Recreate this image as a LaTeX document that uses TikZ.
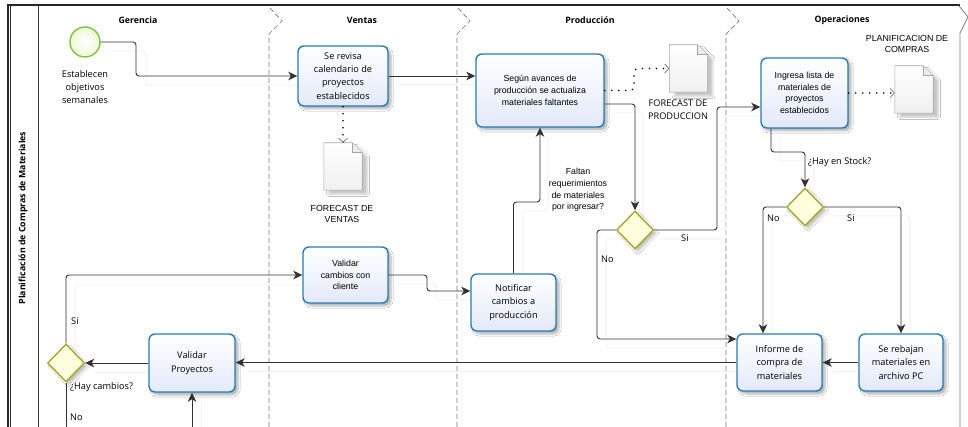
\documentclass[tikz,border=0pt]{standalone}
\usepackage{fontspec}
\setmainfont{Open Sans}
\newfontfamily\arialf{Liberation Sans}
\usetikzlibrary{arrows.meta,shapes.geometric,shadows.blur,calc}

\definecolor{taskborder}{RGB}{42,124,181}
\definecolor{taskfill}{RGB}{226,233,250}
\definecolor{gateborder}{RGB}{168,168,48}
\definecolor{gatefill}{RGB}{255,255,222}
\definecolor{startborder}{RGB}{124,196,64}
\definecolor{startfill}{RGB}{240,248,215}
\definecolor{flowc}{RGB}{50,50,50}
\definecolor{lanec}{RGB}{120,120,120}

\newcommand{\segtxt}{\fontsize{9.2pt}{13.3pt}\selectfont}
\newcommand{\hdrtxt}{\fontsize{8.8pt}{11pt}\selectfont\bfseries}
\newcommand{\aritxt}{\arialf\fontsize{8.8pt}{11.7pt}\selectfont}

\begin{document}
\begin{tikzpicture}[x=1pt,y=-1pt,
  task/.style={draw=taskborder, line width=1.4pt, rounded corners=6pt,
    top color=white, bottom color=taskfill, align=center, inner sep=2pt,
    blur shadow={shadow xshift=3pt, shadow yshift=-3pt, shadow opacity=30, shadow blur steps=6}},
  gate/.style={diamond, draw=gateborder, line width=1.4pt, fill=gatefill,
    minimum width=37pt, minimum height=38pt, inner sep=0pt,
    blur shadow={shadow xshift=3pt, shadow yshift=-3pt, shadow opacity=25, shadow blur steps=5}},
  startev/.style={circle, draw=startborder, line width=1.4pt, inner color=white, outer color=startfill,
    minimum size=30pt, inner sep=0pt},
  docbox/.style={minimum width=38pt, minimum height=47pt, inner sep=0pt},
  docshape/.style={draw=gray!70, line width=0.6pt, top color=white, bottom color=gray!12,
    blur shadow={shadow xshift=5pt, shadow yshift=-4pt, shadow opacity=22, shadow blur steps=5}},
  flow/.style={draw=flowc, line width=0.9pt, rounded corners=3pt,
    -{Stealth[length=9pt,width=8.5pt,inset=2.5pt]}},
  flowline/.style={draw=flowc, line width=0.9pt, rounded corners=3pt},
  ghost/.style={draw=black!5, line width=1pt, rounded corners=3pt},
  assoc/.style={draw=black, line width=1.8pt, line cap=round, dash pattern=on 0pt off 7pt,
    rounded corners=4pt, -{Straight Barb[length=4pt,width=9pt,line width=0.8pt,color=gray]}},
  lane/.style={draw=lanec, line width=0.7pt, dash pattern=on 5pt off 3pt},
  lbl/.style={inner sep=0pt, font=\segtxt},
  hdr/.style={inner sep=0pt, font=\hdrtxt}
]
\useasboundingbox (0,0) rectangle (968,427);
\fill[white] (0,0) rectangle (968,427);

% ---- pool frame and lanes ----
\draw[line width=2pt, black!85] (7,5) -- (960,5);
\draw[line width=1.2pt, black!85] (8,5) -- (8,427);
\draw[line width=0.8pt, black!85] (10.6,5) -- (10.6,427);
\draw[line width=0.8pt, black!80] (38.5,6) -- (38.5,427);
\draw[line width=0.8pt, gray] (959,6) -- (968,17) -- (960,33) -- (960,427);
\foreach \lx in {269,457,726}
  \draw[lane] (\lx+1,8) -- (\lx+13,21) -- (\lx,34) -- (\lx,427);

\node[rotate=90, font=\hdrtxt] (pool) at (23,218) {Planificación de Compras de Materiales};
\node[hdr] (hGer) at (138,20) {Gerencia};
\node[hdr] (hVen) at (362,20) {Ventas};
\node[hdr] (hPro) at (590,20) {Producción};
\node[hdr] (hOpe) at (842,20) {Operaciones};

% ---- faint connector shadows ----
\draw[ghost] (109,51) -- (146,51) -- (146,85) -- (300,85);
\draw[ghost] (397,85) -- (478,85);
\draw[ghost] (613,113) -- (643,113) -- (643,219);
\draw[ghost] (662,239) -- (726,239) -- (726,116) -- (763,116);
\draw[ghost] (625,239) -- (606,239) -- (606,348) -- (739,348);
\draw[ghost] (780,137) -- (780,161) -- (814,161) -- (814,197);
\draw[ghost] (796,216) -- (772,216) -- (772,336);
\draw[ghost] (832,216) -- (910,216) -- (910,336);
\draw[ghost] (868,371) -- (833,371);
\draw[ghost] (746,371) -- (246,371);
\draw[ghost] (158,372) -- (96,372);
\draw[ghost] (75,353) -- (75,285) -- (305,285);
\draw[ghost] (397,284) -- (436,284) -- (436,300) -- (473,300);
\draw[ghost] (523,283) -- (523,211) -- (548,211) -- (548,138);
\draw[ghost] (201,427) -- (201,402);

% ---- events, tasks, gateways ----
\node[startev] (S) at (85,42) {};
\node[lbl, align=center] (Slbl) at (85,87) {Establecen\\objetivos\\semanales};

\node[task, font=\segtxt, minimum width=90pt, minimum height=60pt] (T1) at (343,76)
  {Se revisa\\calendario de\\proyectos\\establecidos};
\node[task, font=\aritxt, minimum width=128pt, minimum height=73pt] (T2) at (540,90.5)
  {Según avances de\\producción se actualiza\\materiales faltantes};
\node[task, font=\aritxt, minimum width=87pt, minimum height=70pt] (T3) at (804.5,93)
  {Ingresa lista de\\materiales de\\proyectos\\establecidos};
\node[task, font=\aritxt, minimum width=85pt, minimum height=56pt] (T4) at (345.5,275)
  {Validar\\cambios con\\cliente};
\node[task, font=\segtxt, minimum width=85pt, minimum height=57pt] (T5) at (513.5,302.5)
  {Notificar\\cambios a\\producción};
\node[task, font=\segtxt, minimum width=86pt, minimum height=58pt] (T6) at (192,363)
  {Validar\\Proyectos};
\node[task, font=\segtxt, minimum width=85pt, minimum height=57pt] (T7) at (779.5,362.5)
  {Informe de\\compra de\\materiales};
\node[task, font=\segtxt, minimum width=84pt, minimum height=57pt] (T8) at (901,362.5)
  {Se rebajan\\materiales en\\archivo PC};

\node[gate] (G1) at (635,230) {};
\node[gate] (G2) at (805,207) {};
\node[gate] (G3) at (66,363) {};

% ---- data objects ----
\node[docbox] (D1) at (343,166.5) {};
\node[docbox] (D2) at (688.5,68.5) {};
\node[docbox] (D3) at (914,89.5) {};
\foreach \d in {D1,D2,D3}{
  \path[docshape] (\d.north west) -- ([xshift=-10pt]\d.north east) -- ([yshift=-10pt]\d.north east)
    -- (\d.south east) -- (\d.south west) -- cycle;
  \draw[gray!70, line width=0.6pt, fill=gray!15] ([xshift=-10pt]\d.north east) -- ([xshift=-10pt,yshift=-10pt]\d.north east)
    -- ([yshift=-10pt]\d.north east);
}
\node[lbl, font=\aritxt, align=center] (D1lbl) at (342,214) {FORECAST DE\\VENTAS};
\node[lbl, align=center] (D2lbl) at (678,110) {FORECAST DE\\PRODUCCION};
\node[lbl, font=\aritxt, align=center] (D3lbl) at (907,44) {PLANIFICACION DE\\COMPRAS};

% ---- data associations ----
\draw[assoc] (T1.south) -- (D1.north);
\draw[assoc] (T2.east) -- (634,90.5) -- (634,68.5) -- (D2.west);
\draw[assoc] (T3.east) -- (T3.east -| D3.west);

% ---- sequence flows ----
\draw[flow] (S.east) -- (136,42) -- (136,76) -- (T1.west);
\draw[flow] (T1.east) -- (T1.east -| T2.west);
\draw[flow] ([yshift=-13.5pt]T2.east) -| (G1.north);
\draw[flow] (G1.east) -- (717,230) |- ([yshift=-14pt]T3.west);
\draw[flow] (G1.west) -- (597,230) |- ([yshift=23.5pt]T7.west);
\draw[flow] ([xshift=-33.5pt]T3.south) -- (771,152) -| (G2.north);
\draw[flow] (G2.west) -| ([xshift=-16.5pt]T7.north);
\draw[flow] (G2.east) -| (T8.north);
\draw[flow] (T8.west) -- (T7.east);
\draw[flow] (T7.west) -- (T7.west -| T6.east);
\draw[flow] (T6.west) -- (G3.east);
\draw[flow] (G3.north) |- (T4.west);
\coordinate (gout) at (66,427);
\draw[flowline] (G3.south) -- (gout);
\draw[flow] (T4.east) -- (427,275) |- ([yshift=11.5pt]T5.west);
\draw[flow] (T5.north) -- (513.5,202) -| (T2.south);
\coordinate (vin) at (192,427);
\draw[flow] (vin) -- (T6.south);

% ---- flow labels ----
\node[lbl, font=\aritxt, align=center] (qFal) at (578,190) {Faltan\\requerimientos\\de materiales\\por ingresar?};
\node[lbl, anchor=west] (qStock) at (808,162) {¿Hay en Stock?};
\node[lbl, anchor=west] (qCamb) at (70,387) {¿Hay cambios?};
\node[lbl, anchor=west] (g1no) at (601,259) {No};
\node[lbl, anchor=west] (g1si) at (681,238) {Si};
\node[lbl, anchor=west] (g2no) at (767,218) {No};
\node[lbl, anchor=west] (g2si) at (847,218) {Si};
\node[lbl, anchor=west] (g3si) at (71,321) {Si};
\node[lbl, anchor=west] (g3no) at (70,417) {No};
\end{tikzpicture}
\end{document}
